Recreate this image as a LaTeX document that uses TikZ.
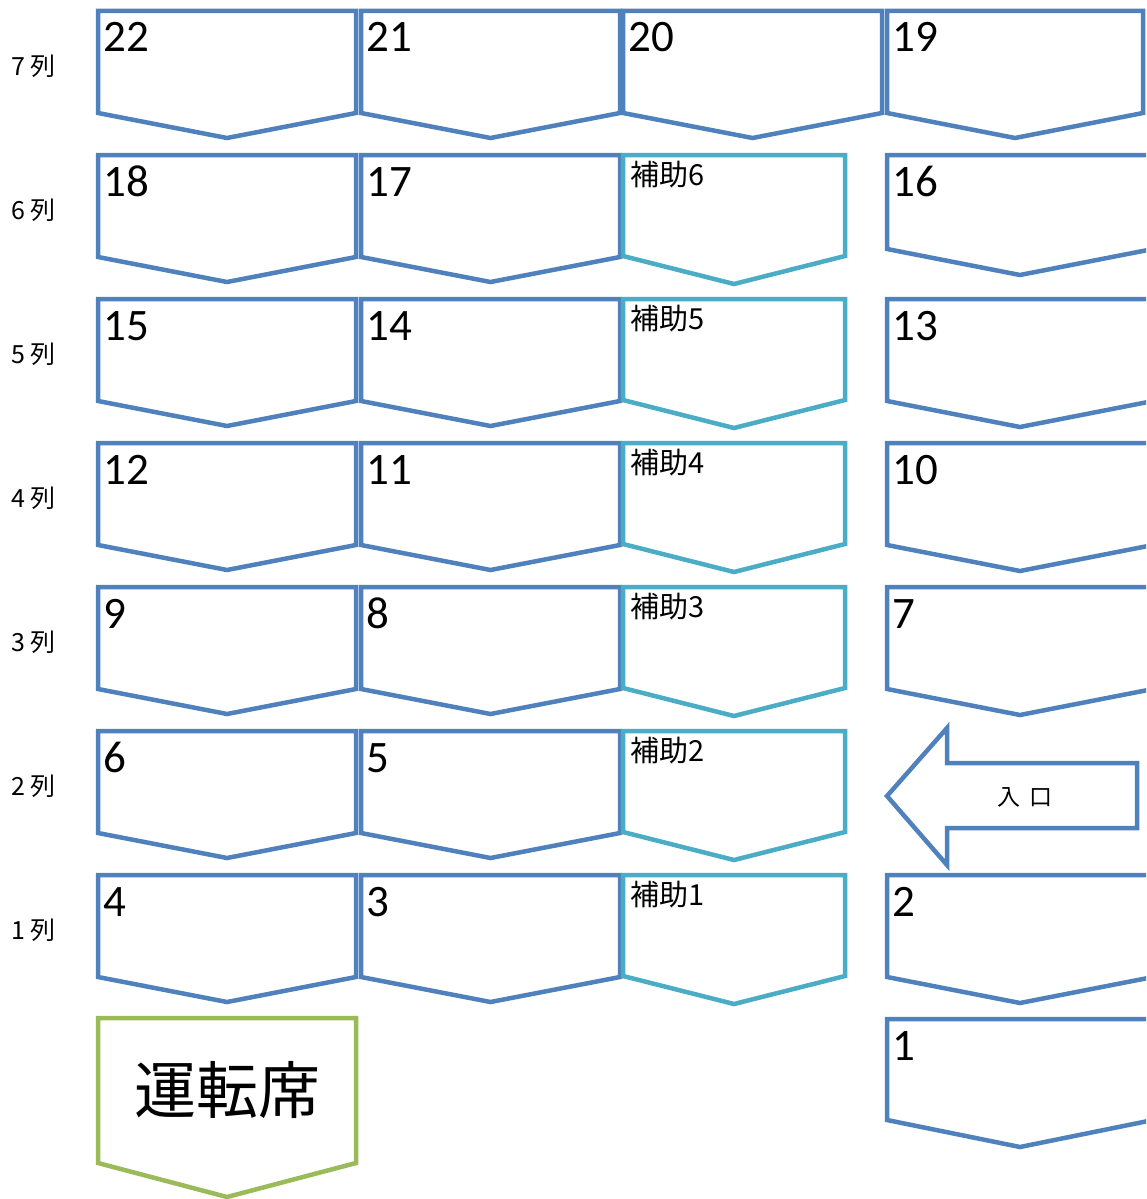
\documentclass[tikz,border=0pt]{standalone}
\usepackage{fontspec}
\setmainfont{Carlito}
\newfontfamily\jp{Noto Sans CJK JP}
\definecolor{seatblue}{HTML}{4F81BD}
\definecolor{auxteal}{HTML}{4BACC6}
\definecolor{drvgreen}{HTML}{9BBB59}
\begin{document}
\begin{tikzpicture}[x=1pt, y=-1pt, line width=4.5pt, line join=miter,
	num/.style={anchor=base west, inner sep=0pt, font=\fontsize{45}{50}\selectfont},
	aux/.style={anchor=base west, inner sep=0pt, font=\jp\fontsize{29}{32}\selectfont},
	rowlbl/.style={anchor=west, inner sep=0pt, font=\jp\fontsize{25}{30}\selectfont}]
	\useasboundingbox (0,0) rectangle (1146,1199);
	\clip (0,0) rectangle (1146,1199);
	% seat: left, right, top, shoulder, tip, colour
	\def\seat#1#2#3#4#5#6{\draw[#6] (#1,#3) -- (#2,#3) -- (#2,#3+#4) -- ({(#1+#2)/2},#3+#5) -- (#1,#3+#4) -- cycle;}
	% 7列
	\seat{98}{356}{11}{102}{127}{seatblue}
	\seat{361}{620}{11}{102}{127}{seatblue}
	\seat{623}{882}{11}{102}{127}{seatblue}
	\seat{887}{1143}{11}{102}{127}{seatblue}
	\node[num] (s22) at (101,52) {22};
	\node[num] (s21) at (364,52) {21};
	\node[num] (s20) at (626,52) {20};
	\node[num] (s19) at (890,52) {19};
	% 6列 - 1列
	\foreach \ty/\na/\nb/\nh in {155/18/17/6, 299/15/14/5, 443/12/11/4, 587/9/8/3, 731/6/5/2, 875/4/3/1}{
		\seat{98}{356}{\ty}{102}{127}{seatblue}
		\seat{361}{620}{\ty}{102}{127}{seatblue}
		\seat{623}{845}{\ty}{101}{129}{auxteal}
		\node[num] (s\na) at (101,\ty+41) {\na};
		\node[num] (s\nb) at (364,\ty+41) {\nb};
		\node[aux] (h\nh) at (628,\ty+30) {補助\nh};
	}
	% right side
	\foreach \ty/\nc/\dep in {155/16/94, 299/13/102, 443/10/102, 587/7/102, 875/2/102}{
		\seat{887}{1153}{\ty}{\dep}{\dep+26}{seatblue}
		\node[num] (s\nc) at (890,\ty+41) {\nc};
	}
	\seat{887}{1153}{1019}{101}{128}{seatblue}
	\node[num] (s1) at (890,1060) {1};
	% driver
	\seat{98}{356}{1018}{145}{179}{drvgreen}
	\node[inner sep=0pt, font=\jp\fontsize{62}{70}\selectfont] (drv) at (227,1090) {運転席};
	% entrance
	\draw[seatblue] (887,796) -- (947,728) -- (947,763) -- (1137,763) -- (1137,828)
		-- (947,828) -- (947,865) -- cycle;
	\node[inner sep=0pt, font=\jp\fontsize{23}{28}\selectfont] (entr) at (1025,797) {入\kern9pt 口};
	% row labels
	\foreach \r in {1,...,7}
		\node[rowlbl] (r\r) at (9,{875-144*(\r-1)+55}) {\r\kern5pt 列};
\end{tikzpicture}
\end{document}
